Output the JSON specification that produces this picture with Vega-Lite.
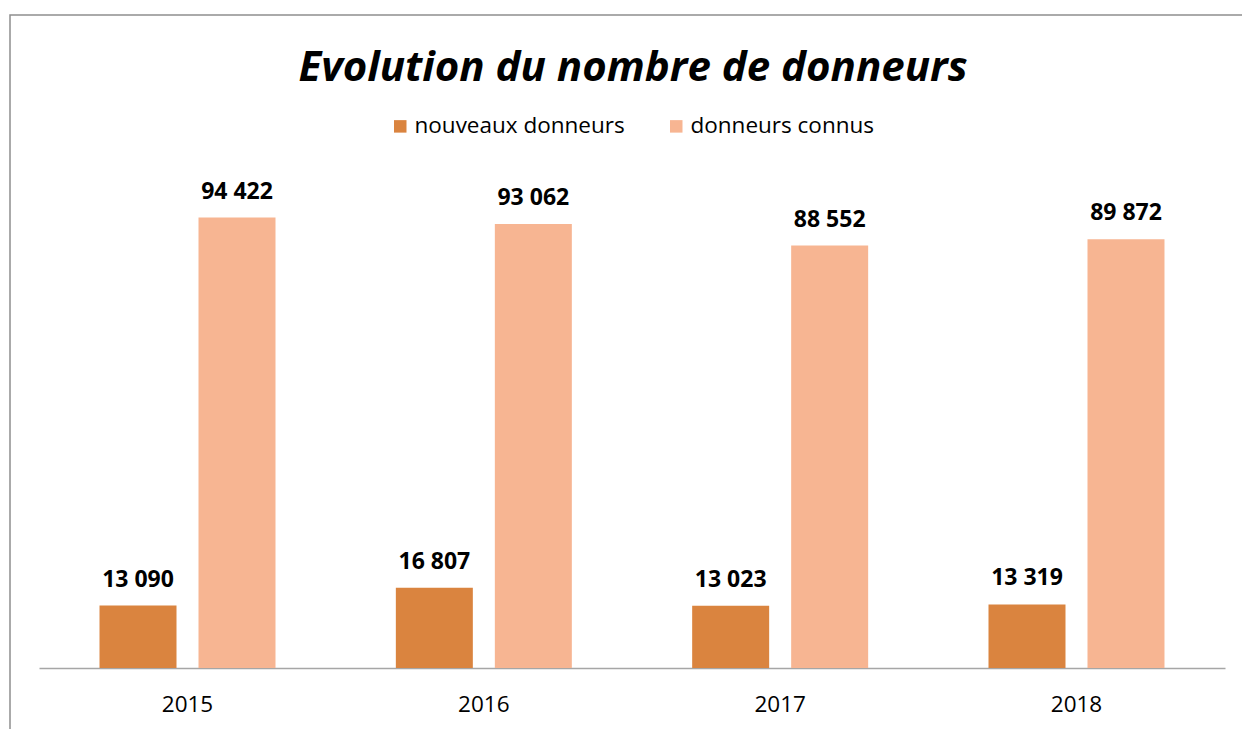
{
  "$schema": "https://vega.github.io/schema/vega-lite/v6.json",
  "autosize": {"type": "none"},
  "padding": {"left": 10, "top": 15, "right": -10, "bottom": -10},
  "width": 1242,
  "height": 724,
  "background": "white",
  "title": {
    "text": "Evolution du nombre de donneurs",
    "font": "Open Sans",
    "fontSize": 42,
    "fontWeight": "bold",
    "fontStyle": "italic",
    "color": "black",
    "anchor": "middle",
    "frame": "group",
    "baseline": "alphabetic",
    "offset": -108,
    "dx": 2
  },
  "config": {
    "view": {"stroke": "#8f8f8f", "strokeWidth": 1.5},
    "font": "Open Sans",
    "locale": {
      "number": {
        "decimal": ",",
        "thousands": " ",
        "grouping": [3],
        "currency": ["", " €"]
      }
    }
  },
  "data": {
    "values": [
      {"annee": "2015", "serie": "nouveaux donneurs", "valeur": 13090},
      {"annee": "2015", "serie": "donneurs connus", "valeur": 94422},
      {"annee": "2016", "serie": "nouveaux donneurs", "valeur": 16807},
      {"annee": "2016", "serie": "donneurs connus", "valeur": 93062},
      {"annee": "2017", "serie": "nouveaux donneurs", "valeur": 13023},
      {"annee": "2017", "serie": "donneurs connus", "valeur": 88552},
      {"annee": "2018", "serie": "nouveaux donneurs", "valeur": 13319},
      {"annee": "2018", "serie": "donneurs connus", "valeur": 89872}
    ]
  },
  "encoding": {
    "x": {
      "field": "annee",
      "type": "nominal",
      "scale": {"range": [29, 1215], "paddingInner": 0.4061, "paddingOuter": 0.2042},
      "axis": {
        "title": null,
        "orient": "bottom",
        "offset": -71,
        "domainColor": "#a6a6a6",
        "domainWidth": 1.5,
        "ticks": false,
        "grid": false,
        "labelAngle": 0,
        "labelFont": "Open Sans",
        "labelFontSize": 22.5,
        "labelColor": "black",
        "labelPadding": 25
      }
    },
    "xOffset": {
      "field": "serie",
      "type": "nominal",
      "sort": ["nouveaux donneurs", "donneurs connus"],
      "scale": {"paddingInner": 0.2222, "paddingOuter": 0}
    },
    "y": {
      "field": "valeur",
      "type": "quantitative",
      "scale": {"domain": [-14882, 136869], "nice": false, "zero": false},
      "axis": null
    }
  },
  "layer": [
    {
      "mark": {"type": "bar"},
      "encoding": {
        "y2": {"datum": 0},
        "color": {
          "field": "serie",
          "type": "nominal",
          "sort": ["nouveaux donneurs", "donneurs connus"],
          "scale": {"domain": ["nouveaux donneurs", "donneurs connus"], "range": ["#DA843F", "#F7B592"]},
          "legend": {
            "orient": "none",
            "legendX": 379,
            "legendY": 100,
            "direction": "horizontal",
            "title": null,
            "symbolType": "square",
            "symbolSize": 156,
            "symbolStrokeWidth": 0,
            "symbolOpacity": 1,
            "labelFont": "Open Sans",
            "labelFontSize": 22.5,
            "labelColor": "black",
            "labelOffset": 3,
            "labelLimit": 400,
            "columnPadding": 40,
            "padding": 0
          }
        }
      }
    },
    {
      "mark": {"type": "text", "dy": -19, "baseline": "alphabetic", "fontWeight": "bold", "fontSize": 23, "font": "Open Sans", "color": "black"},
      "encoding": {
        "text": {"field": "valeur", "type": "quantitative", "format": ",d"}
      }
    }
  ]
}
